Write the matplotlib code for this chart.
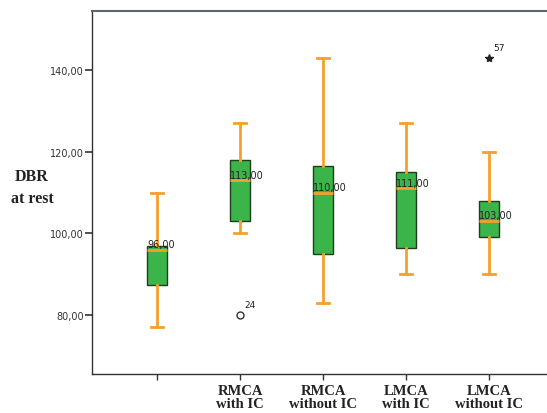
import matplotlib
matplotlib.use("Agg")
import matplotlib.pyplot as plt

# Data
categories = ["", "RMCA\nwith IC", "RMCA\nwithout IC", "LMCA\nwith IC", "LMCA\nwithout IC"]
whisker_low = [77, 100, 83, 90, 90]
q1 = [87.3, 103, 95, 96.3, 99]
medians = [96, 113, 110, 111, 103]
q3 = [97, 118, 116.6, 115, 108]
whisker_high = [110, 127, 143, 127, 120]
outlier_group = [2, 5]
outlier_values = [80, 143]
outlier_ids = ["24", "57"]
outlier_markers = ["o", "*"]
yticks = [80, 100, 120, 140]

fig = plt.figure(figsize=(5.47, 4.14), dpi=100)
ax = fig.add_axes([92/547, 1-375/414, (554-92)/547, (375-12)/414])

positions = list(range(1, len(categories)+1))
stats = []
for i in range(len(categories)):
    stats.append(dict(whislo=whisker_low[i], q1=q1[i], med=medians[i],
                      q3=q3[i], whishi=whisker_high[i], fliers=[]))

orange = "#F5A02A"
green = "#3BB54A"
ax.bxp(stats, positions=positions, widths=0.24, patch_artist=True,
       showfliers=False, capwidths=0.15,
       boxprops=dict(facecolor=green, edgecolor="#1d3d1d", linewidth=1.0),
       medianprops=dict(color=orange, linewidth=2.0),
       whiskerprops=dict(color=orange, linewidth=2.0),
       capprops=dict(color=orange, linewidth=2.0))

for p, m in zip(positions, medians):
    ax.annotate(f"{m:.2f}".replace(".", ","), xy=(p - 0.12, m), xytext=(0, 4),
                textcoords="offset points", ha="left", va="center",
                fontsize=7, color="#222222")

for g, v, lab, mk in zip(outlier_group, outlier_values, outlier_ids, outlier_markers):
    if mk == "o":
        ax.plot(g, v, marker="o", markersize=5, markerfacecolor="white",
                markeredgecolor="#333333", markeredgewidth=1.0, linestyle="none")
    else:
        ax.plot(g, v, marker="*", markersize=6, color="#222222", linestyle="none")
    ax.annotate(lab, xy=(g, v), xytext=(3, 4), textcoords="offset points",
                ha="left", va="bottom", fontsize=6.5, color="#222222")

ax.set_xlim(1 - 65/83, 5 + 65/83)
ax.set_ylim(65.5, 154.5)
ax.set_yticks(yticks)
ax.set_yticklabels([f"{t:.2f}".replace(".", ",") for t in yticks], fontsize=7, color="#333333")
ax.set_xticks(positions)
ax.set_xticklabels(categories, fontsize=10.5, fontweight="bold",
                   family="Liberation Serif", color="#222222", linespacing=1.0)
ax.tick_params(axis="y", length=5, width=1.2, color="#333333", pad=1)
ax.tick_params(axis="x", length=4, width=1.0, color="#333333", pad=3)
for s in ["left", "bottom"]:
    ax.spines[s].set_color("#333333")
    ax.spines[s].set_linewidth(1.0)
ax.spines["top"].set_color("#5a6670")
ax.spines["top"].set_linewidth(1.5)
ax.spines["right"].set_visible(False)

fig.text(32/547, 1-188/414, "DBR\nat rest", ha="center", va="center",
         fontsize=11.5, fontweight="bold", family="Liberation Serif",
         color="#222222", linespacing=1.5)

fig.savefig("out.png", dpi=100)
